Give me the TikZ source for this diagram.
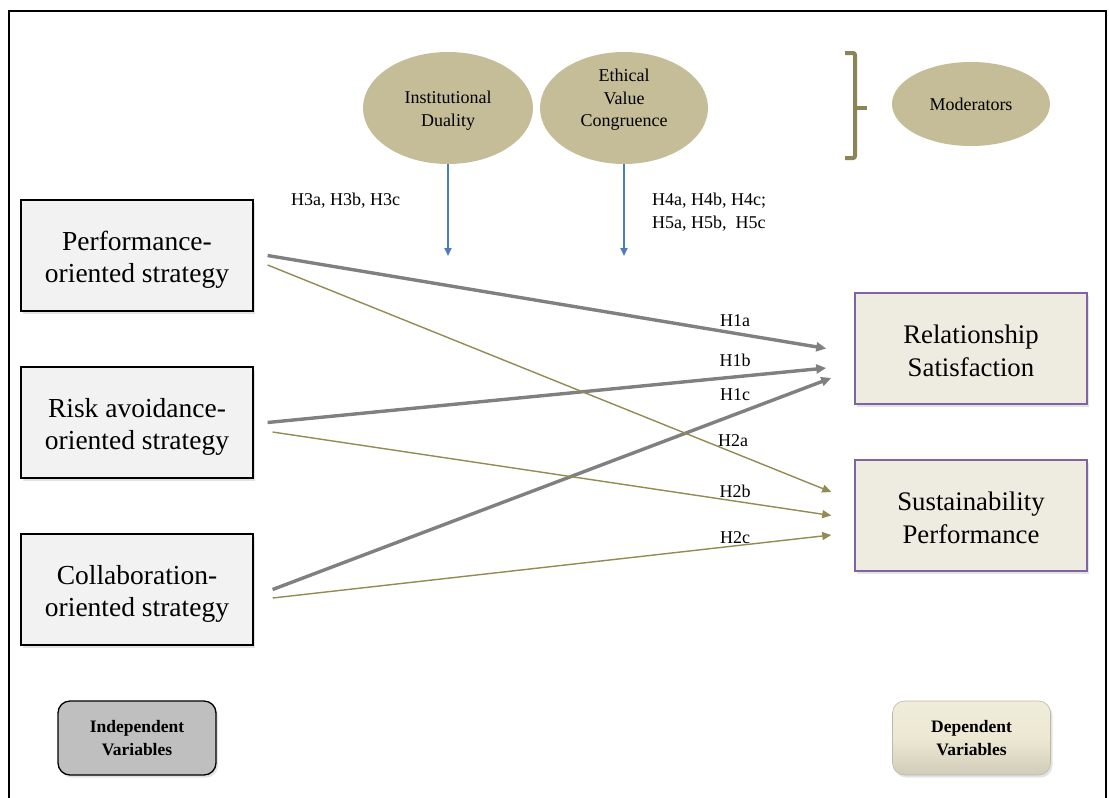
\documentclass[tikz,border=0pt]{standalone}
\usepackage{fontspec}
\setmainfont{Liberation Serif}
\usetikzlibrary{shapes.geometric,arrows.meta,shadows}

\definecolor{modtan}{HTML}{C4BD97}
\definecolor{pathtan}{HTML}{948A54}
\definecolor{bracetan}{HTML}{8C8456}
\definecolor{pathgray}{HTML}{808080}
\definecolor{modblue}{HTML}{4A7EBB}
\definecolor{ivfill}{HTML}{F2F2F2}
\definecolor{dvfill}{HTML}{EEECE1}
\definecolor{dvline}{HTML}{8064A2}
\definecolor{legfill}{HTML}{BFBFBF}
\definecolor{legcream}{HTML}{ECE8D2}

% tall invisible strut that pushes a text block slightly down in its box
\newcommand{\lowerstrut}[1]{\rule{0pt}{#1}}

\tikzset{
  softshadow/.style={drop shadow={shadow xshift=2pt, shadow yshift=-2.5pt, opacity=0.22}},
  ivbox/.style={draw=black, line width=1.2pt, fill=ivfill, minimum width=232pt,
    minimum height=111pt, inner sep=0pt, align=center,
    font=\fontsize{27.5}{32}\selectfont, softshadow},
  dvbox/.style={draw=dvline, line width=1.5pt, fill=dvfill, minimum width=232pt,
    minimum height=111pt, inner sep=0pt, align=center,
    font=\fontsize{26.8}{33}\selectfont, softshadow},
  modell/.style={ellipse, fill=modtan, draw=none, inner sep=0pt, align=center,
    font=\fontsize{18}{22.5}\selectfont},
  smalltext/.style={inner sep=0pt, font=\fontsize{18}{22}\selectfont},
  hlabel/.style={inner sep=0pt, anchor=base, font=\fontsize{18}{22}\selectfont},
  legbox/.style={rounded corners=12pt, minimum width=158pt, minimum height=74pt,
    inner sep=0pt, align=center, font=\fontsize{17.5}{23}\selectfont\bfseries, softshadow},
  grayarrow/.style={draw=pathgray, line width=3.4pt,
    -{Triangle[length=10pt,width=9pt]}},
  tanarrow/.style={draw=pathtan, line width=1.4pt,
    -{Triangle[length=9pt,width=8pt]}},
  bluearrow/.style={draw=modblue, line width=1.8pt,
    -{Triangle[length=8pt,width=7pt]}},
}

\begin{document}
\begin{tikzpicture}[x=1pt,y=-1pt]
  \useasboundingbox (0,0) rectangle (1109,798);
  \clip (0,0) rectangle (1109,798);
  \fill[white] (0,0) rectangle (1109,798);

  % outer frame, open at the bottom
  \draw[line width=2.6pt] (9,815) -- (9,11) -- (1106,11) -- (1106,815);

  % moderators
  \node[modell, minimum width=170pt, minimum height=112pt] (idu) at (448,108) {};
  \node[smalltext, align=center, font=\fontsize{18}{22.5}\selectfont] (idutext)
    at (448,110.5) {Institutional\\Duality};
  \node[modell, minimum width=168pt, minimum height=112pt] (evc) at (624,108) {};
  \node[smalltext, align=center, font=\fontsize{18}{22.5}\selectfont] (evctext)
    at (624,100) {Ethical\\Value\\Congruence};
  \node[modell, minimum width=158pt, minimum height=84pt] (mod) at (971,104)
    {Moderators};

  % brace grouping the moderators
  \draw[bracetan, line width=4pt, rounded corners=2pt]
    (845,53) -- (855,53) -- (855,158) -- (845,158);
  \draw[bracetan, line width=4pt] (855,108) -- (867,108);

  % moderating arrows
  \coordinate (idutip) at (448,256);
  \coordinate (evctip) at (624,256);
  \draw[bluearrow] (idu.south) -- (idutip);
  \draw[bluearrow] (evc.south) -- (evctip);

  \node[smalltext, anchor=base west] (h3) at (291,205) {H3a, H3b, H3c};
  \node[smalltext, anchor=base west] (h4) at (652,205) {H4a, H4b, H4c;};
  \node[smalltext, anchor=base west] (h5) at (652,228) {H5a, H5b,\ \ H5c};

  % independent variables
  \node[ivbox] (pos) at (137,255.5) {\lowerstrut{27pt}Performance-\\oriented strategy};
  \node[ivbox] (risk) at (137,422.5) {\lowerstrut{27pt}Risk avoidance-\\oriented strategy};
  \node[ivbox] (col) at (137,589.5) {\lowerstrut{27pt}Collaboration-\\oriented strategy};

  % dependent variables
  \node[dvbox] (rs) at (971,348.5) {\lowerstrut{23pt}Relationship\\Satisfaction};
  \node[dvbox] (sp) at (971,515.5) {\lowerstrut{23pt}Sustainability\\Performance};

  % hypothesised paths to relationship satisfaction
  \draw[grayarrow] ([xshift=14pt]pos.east) -- ([xshift=-28pt]rs.west);
  \draw[grayarrow] ([xshift=14pt]risk.east) -- ([xshift=-28pt,yshift=-19.5pt]rs.west);
  \draw[grayarrow] ([xshift=19pt]col.east) -- ([xshift=-23pt,yshift=-29.5pt]rs.west);

  % hypothesised paths to sustainability performance
  \draw[tanarrow] ([xshift=14pt,yshift=-9.5pt]pos.east) -- ([xshift=-23pt,yshift=23.5pt]sp.west);
  \draw[tanarrow] ([xshift=19pt,yshift=-9.5pt]risk.east) -- ([xshift=-23pt]sp.west);
  \draw[tanarrow] ([xshift=19pt,yshift=-8.5pt]col.east) -- ([xshift=-23pt,yshift=-19.5pt]sp.west);

  % path labels
  \node[hlabel] (l1a) at (735,326) {H1a};
  \node[hlabel] (l1b) at (735,366) {H1b};
  \node[hlabel] (l1c) at (735,400) {H1c};
  \node[hlabel] (l2a) at (733,446) {H2a};
  \node[hlabel] (l2b) at (735,497) {H2b};
  \node[hlabel] (l2c) at (735,543) {H2c};

  % legend
  \node[legbox, fill=legfill, draw=black, line width=1.3pt] (legiv) at (137,738)
    {Independent\\Variables};
  \node[legbox, top color=legcream!80!white, bottom color=legcream!88!black,
    middle color=legcream, draw=legcream!80!black, line width=0.6pt] (legdv)
    at (971.5,738) {Dependent\\Variables};
\end{tikzpicture}
\end{document}
